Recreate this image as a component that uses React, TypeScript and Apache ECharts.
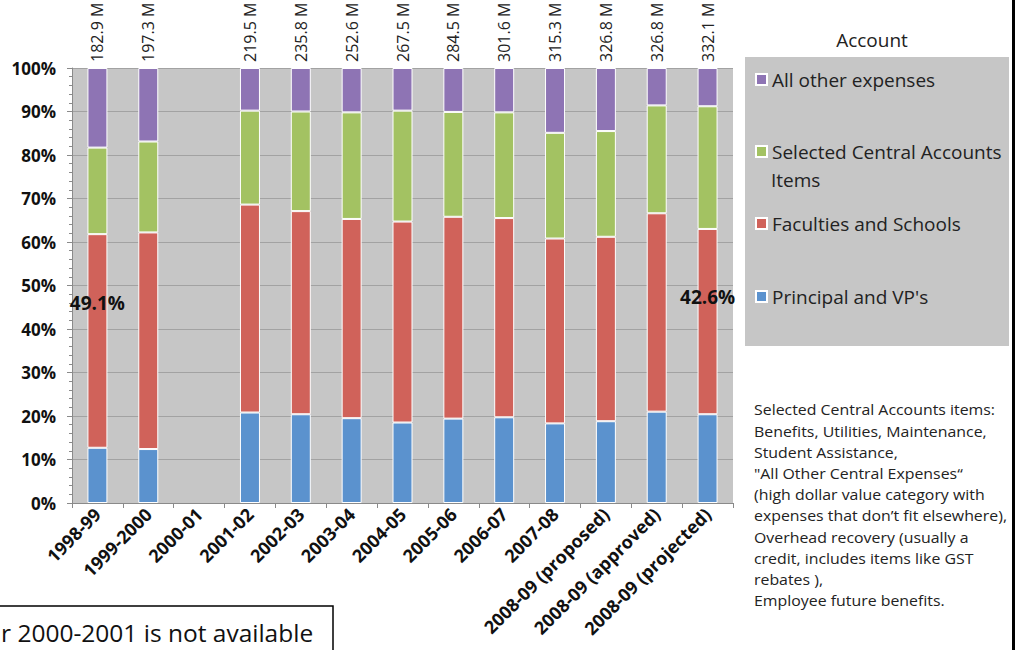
import React, { useEffect, useRef } from "react";
import * as echarts from "echarts";

// Fiscal years on the category axis
const categories = [
  "1998-99",
  "1999-2000",
  "2000-01",
  "2001-02",
  "2002-03",
  "2003-04",
  "2004-05",
  "2005-06",
  "2006-07",
  "2007-08",
  "2008-09 (proposed)",
  "2008-09 (approved)",
  "2008-09 (projected)",
];

// Total budget per year, in millions (no figures for 2000-01)
const totals = [182.9, 197.3, null, 219.5, 235.8, 252.6, 267.5, 284.5, 301.6, 315.3, 326.8, 326.8, 332.1];

// Share of the total, in percent, per account
const principalVP = [12.7, 12.4, null, 20.8, 20.4, 19.5, 18.5, 19.4, 19.7, 18.3, 18.8, 21.0, 20.4];
const faculties = [49.1, 49.8, null, 47.8, 46.7, 45.8, 46.2, 46.4, 45.8, 42.5, 42.4, 45.6, 42.6];
const centralItems = [19.9, 20.9, null, 21.6, 22.9, 24.5, 25.5, 24.1, 24.3, 24.3, 24.3, 24.8, 28.2];
const otherExpenses = [18.3, 16.9, null, 9.8, 10.0, 10.2, 9.8, 10.1, 10.2, 14.9, 14.5, 8.6, 8.8];

// Years whose Faculties share is called out on the bar
const calledOut = [0, 12];

const seriesNames = [
  "All other expenses",
  "Selected Central Accounts Items",
  "Faculties and Schools",
  "Principal and VP's",
];

const colors = {
  blue: "#5b92ce",
  red: "#d0625a",
  green: "#a3c262",
  purple: "#8e74b4",
};

const footnote = [
  "Selected Central Accounts items:",
  "Benefits, Utilities, Maintenance,",
  "Student Assistance,",
  "\"All Other Central Expenses\u201C",
  "(high dollar value category with",
  "expenses that don\u2019t fit elsewhere),",
  "Overhead recovery (usually a",
  "credit, includes items like GST",
  "rebates ),",
  "Employee future benefits.",
];

const FONT = '"Open Sans", "DejaVu Sans", sans-serif';

export default function App() {
  const ref = useRef<HTMLDivElement>(null);

  useEffect(() => {
    if (!ref.current) return;
    const chart = echarts.init(ref.current, undefined, { renderer: "svg" });

    const barBase = {
      type: "bar",
      stack: "share",
      barWidth: 20,
      itemStyle: { borderColor: "#ffffff", borderWidth: 1 },
    };

    const legendAt = (name: string, top: number) => ({
      data: [name],
      left: 755,
      top,
      padding: 0,
      itemWidth: 11,
      itemHeight: 11,
      icon: "rect",
      selectedMode: false,
      formatter: (n: string) =>
        n === "Selected Central Accounts Items" ? "Selected Central Accounts" : n,
      textStyle: { fontFamily: FONT, fontSize: 19, color: "#222222", padding: [0, 0, 0, 0] },
    });

    chart.setOption({
      animation: false,
      backgroundColor: "#ffffff",
      textStyle: { fontFamily: FONT },
      grid: {
        left: 72,
        right: 288,
        top: 68,
        bottom: 147,
        show: true,
        backgroundColor: "#c6c6c6",
        borderWidth: 0,
      },
      legend: [
        legendAt(seriesNames[0], 70),
        legendAt(seriesNames[1], 142),
        legendAt(seriesNames[2], 214),
        legendAt(seriesNames[3], 287),
      ],
      xAxis: {
        type: "category",
        data: categories,
        axisLine: { lineStyle: { color: "#8a8a8a" } },
        axisTick: { show: true, length: 5, alignWithLabel: false, lineStyle: { color: "#8a8a8a" } },
        axisLabel: {
          interval: 0,
          rotate: 45,
          margin: 8,
          fontFamily: FONT,
          fontSize: 18,
          fontWeight: "bold",
          color: "#111111",
        },
      },
      yAxis: {
        type: "value",
        min: 0,
        max: 100,
        interval: 10,
        axisLine: { show: true, lineStyle: { color: "#8a8a8a" } },
        axisTick: { show: true, length: 5, lineStyle: { color: "#8a8a8a" } },
        minorTick: { show: true, splitNumber: 5, length: 3, lineStyle: { color: "#8a8a8a" } },
        splitLine: { show: true, lineStyle: { color: "#a2a2a2", width: 1 } },
        axisLabel: {
          formatter: "{value}%",
          margin: 16,
          fontFamily: FONT,
          fontSize: 17,
          fontWeight: "bold",
          color: "#111111",
        },
      },
      series: [
        {
          ...barBase,
          name: seriesNames[3],
          data: principalVP,
          itemStyle: { ...barBase.itemStyle, color: colors.blue },
        },
        {
          ...barBase,
          name: seriesNames[2],
          data: faculties.map((v, i) =>
            calledOut.includes(i) ? { value: v, label: { show: true } } : v
          ),
          itemStyle: { ...barBase.itemStyle, color: colors.red },
          label: {
            show: false,
            position: "insideTop",
            distance: 59,
            fontFamily: FONT,
            fontSize: 19,
            fontWeight: "bold",
            color: "#111111",
            formatter: (p: any) => `${Number(p.value).toFixed(1)}%`,
          },
        },
        {
          ...barBase,
          name: seriesNames[1],
          data: centralItems,
          itemStyle: { ...barBase.itemStyle, color: colors.green },
        },
        {
          ...barBase,
          name: seriesNames[0],
          data: otherExpenses,
          itemStyle: { ...barBase.itemStyle, color: colors.purple },
          label: {
            show: true,
            position: "top",
            rotate: 90,
            align: "left",
            verticalAlign: "middle",
            distance: 6,
            fontFamily: FONT,
            fontSize: 16,
            color: "#222222",
            formatter: (p: any) =>
              totals[p.dataIndex] == null ? "" : `${totals[p.dataIndex]!.toFixed(1)} M`,
          },
        },
      ],
      graphic: [
        // legend panel
        {
          type: "rect",
          z: 0,
          shape: { x: 745, y: 57, width: 264, height: 289 },
          style: { fill: "#c6c6c6" },
        },
        {
          type: "text",
          z: 1,
          style: {
            text: "Account",
            x: 872,
            y: 40,
            textAlign: "center",
            textVerticalAlign: "middle",
            fontFamily: FONT,
            fontSize: 19,
            fill: "#222222",
          },
        },
        {
          type: "text",
          z: 5,
          style: {
            text: "Items",
            x: 771,
            y: 180,
            textVerticalAlign: "middle",
            fontFamily: FONT,
            fontSize: 19,
            fill: "#222222",
          },
        },
        // notes on the central accounts
        {
          type: "text",
          z: 1,
          x: 754,
          y: 399,
          scaleX: 1.06,
          style: {
            text: footnote.join("\n"),
            x: 0,
            y: 0,
            textVerticalAlign: "top",
            lineHeight: 21.2,
            fontFamily: FONT,
            fontSize: 15,
            fill: "#222222",
          },
        },
        // missing-year note box
        {
          type: "rect",
          z: 1,
          shape: { x: -2, y: 606, width: 335, height: 60 },
          style: { fill: "#ffffff", stroke: "#000000", lineWidth: 1.5 },
        },
        {
          type: "text",
          z: 2,
          style: {
            text: "r 2000-2001 is not available",
            x: 1,
            y: 632,
            textAlign: "left",
            textVerticalAlign: "middle",
            fontFamily: FONT,
            fontSize: 24.5,
            fill: "#111111",
          },
        },
        // right-hand frame edge
        {
          type: "rect",
          z: 1,
          shape: { x: 1012, y: 0, width: 3, height: 650 },
          style: { fill: "#000000" },
        },
      ],
    });

    return () => chart.dispose();
  }, []);

  return (
    <div
      ref={ref}
      style={{ position: "fixed", left: 0, top: 0, width: 1021, height: 650, background: "#ffffff" }}
    />
  );
}
